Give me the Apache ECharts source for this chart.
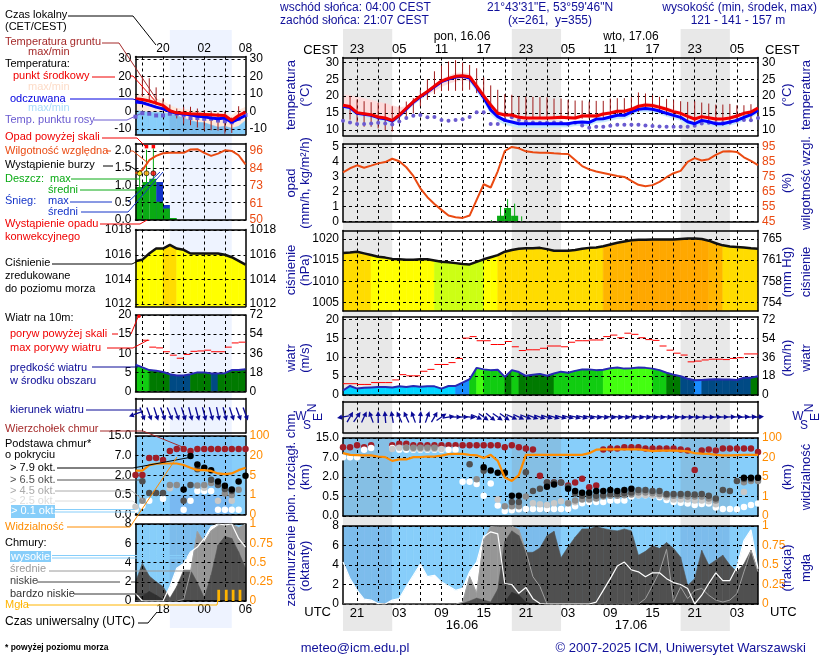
<!DOCTYPE html>
<html>
<head>
<meta charset="utf-8">
<style>html,body{margin:0;padding:0;background:#fff}#main{width:820px;height:660px}</style>
<script src="https://cdn.jsdelivr.net/npm/echarts@6/dist/echarts.min.js"></script>
</head>
<body>
<div id="main"></div>
<script>
var _ = null;

// ---- main meteogram, hourly from 19 UTC 15.06 (hour 19) to hour 78 ----
var tempMid = [17.3,16.9,15.1,14.8,14.5,13.8,13.5,12.8,14.4,16.4,18.4,20,21.4,23,24.5,25.3,25.9,26.1,25.8,23,20.1,17.4,14.9,14.4,14.4,13.7,13.5,13.5,13.5,13.5,13.6,13.7,13.6,13.5,14.1,14.2,14.1,14.7,15,15.5,15.5,16.1,17,17.4,17.2,16.7,16.1,15.4,14.9,14,13.2,13.9,13.6,13.2,13.2,13.5,14.1,14.9,15.3,16.5];
var tempMax = [20.3,20.2,19.8,19.3,18.8,18.3,17.8,17.2,16.6,16.9,18.8,20.4,21.8,23.4,25,26,26.8,27,26.6,24,21,18,15.6,15,14.9,14.2,14,14,14,14,14.1,14.2,14.1,14,14.6,14.7,14.6,15.2,15.5,16,16,16.6,17.5,18,17.8,17.3,16.7,16,15.4,14.5,13.8,14.4,14.1,13.7,13.8,14,14.6,15.4,15.8,17];
var tempMin = [16.6,16.2,14.6,14.2,13.9,13.2,13,12.3,13.8,15.6,17.6,19.2,20.4,21.6,22.8,23.8,24.4,24.8,24.6,22.6,19.6,16.9,14.4,13.9,13.9,13.2,13,13,13,13,13.1,13.2,13.1,13,13.6,13.7,13.6,14.2,14.5,15,15,15.6,16.5,16.9,16.7,16.2,15.6,14.9,14.4,13.5,12.7,13.4,13.1,12.7,12.7,13,13.6,14.4,14.8,16];
var feels = [17,16.6,14.9,14.6,14.3,13.6,13.3,12.6,14.2,16.2,18.2,19.8,21.2,22.8,24.3,25.1,25.7,25.9,25.4,22.6,19.6,15.9,13.9,12.8,12.3,11.8,11.8,11.8,11.8,11.8,11.8,11.8,11.8,12.2,12.3,12.2,13.2,13.3,13.8,14.3,14.3,15.3,16.1,16.3,16.1,15.6,14.9,14.3,13.7,12.4,11.8,12.8,12.4,11.8,11.8,12.3,12.8,13.7,14.5,15.8];
var feelsMax = [17.2,16.8,15.1,14.8,14.5,13.8,13.5,12.8,14.4,16.4,18.4,20,21.4,23,24.5,25.3,25.9,26.1,25.6,22.8,19.9,16.4,14.2,13.1,12.6,12.1,12.1,12.1,12.1,12.1,12.1,12.1,12.1,12.5,12.6,12.5,13.5,13.6,14.1,14.6,14.6,15.6,16.4,16.6,16.4,15.9,15.2,14.6,14,12.7,12.1,13.1,12.7,12.1,12.1,12.6,13.1,14,14.8,16.1];
var feelsMin = [16.2,15.8,14.1,13.8,13.5,12.8,12.5,11.8,13.4,15.4,17.4,19,20.4,22,23.5,24.3,24.9,25.1,24.4,21.4,18.4,14.6,12.7,11.6,11.1,10.7,10.7,10.7,10.7,10.7,10.8,10.8,10.8,11.2,11.3,11.2,12.2,12.3,12.8,13.3,13.3,14.3,15.2,15.4,15.2,14.7,14,13.4,12.8,11.5,10.9,11.9,11.5,10.9,10.9,11.4,11.9,12.8,13.6,14.9];
var dewPoint = [12.7,12.2,11.7,11.7,11.9,12.1,11.9,11.6,12.5,13.5,14.2,14.4,13.7,13.8,12.9,12.7,12.9,13.1,13.8,15.2,15.2,11.7,11.7,12.9,13.7,12.9,12.4,12.2,12.1,12.1,12.2,12.1,11.7,12.1,11.3,10.6,10.9,10.9,11.2,11.5,11.5,11.5,11.5,11.3,11.1,11,10.9,10.9,10.9,10.9,11.2,11.9,12.1,12,12,12.2,12.8,12.9,12.8,13.5];
var groundMax = [_,20,19,18.5,18.2,18,17.8,17,17,18.4,19.4,21.8,25,27.4,29.1,30.3,30.7,30,29.3,28.3,25.6,23.2,21.9,20.6,20.4,19.9,19.8,19.8,19.7,19.7,19.3,19.3,18.9,18.7,18.7,18.4,18.6,18.6,19.3,19.4,19.4,19.7,21.1,20.8,20.3,19.8,19.2,18.8,18.5,18.3,18.5,18.1,17.8,17.5,17.5,17.7,17.3,17.3,17.6,16.8];
var groundMin = [_,13,12.2,10.9,10.9,10.4,9.9,9.5,12,13,14.9,17,18.9,20.6,21.5,21.6,21.6,21.6,21.9,20.9,19.6,16,14,13.6,13.5,13.5,13.5,13.5,13.4,13.4,13.4,13.4,13.4,13.4,13.3,13.3,13.3,13.3,13.3,14,14,14.5,15.3,15.9,15.6,15,14.3,13.5,13,12.8,12,11.9,11.7,11.2,11.2,11.6,12.1,12.7,13.2,13.7];
var humidity = [78,80.7,82.7,81.1,82.5,84,84.9,87.1,85.4,81.4,75.6,67.3,61.3,56.8,52.8,49,47.9,47.4,49,59.5,70,67.8,78.7,92.3,95,94.1,92.1,91.4,91.2,91.2,90.8,90.5,90.3,86.3,82.2,80,78.5,77.6,76.5,75.6,74.9,72.2,69.6,68.7,69.4,71.6,74.7,77.4,79,85,87.5,85.9,86.8,89.7,91.9,92.1,91.7,88.1,85.6,82.9];
var rainHours = [41.4,42.4,43.4];
var rainMean = [0.38,0.9,0.38];
var rainPeakHours = [40.1,41.4,42.4,43.4,44.4];
var rainPeak = [0.1,1.05,1.5,1.2,0.35];
var pressure = [1016.7,1016.8,1017,1016.6,1016.2,1015.8,1015.6,1015.3,1015.2,1015.1,1015.1,1015.2,1015.2,1014.9,1014.6,1014.5,1014.3,1014.1,1014,1014.6,1015.2,1015.7,1016.2,1017,1017.4,1017.7,1017.8,1017.8,1017.9,1017.6,1017.2,1017.2,1017.2,1017.4,1017.7,1017.9,1018,1018.3,1018.7,1019.1,1019.4,1019.7,1019.8,1019.8,1019.9,1019.9,1019.9,1019.9,1020,1020.1,1020.1,1020,1019.6,1019,1018.5,1018.2,1018.1,1018,1017.8,1017.7];
var wind = [1.2,2.4,1.7,1.9,2,2.1,2.1,2,2.3,2.1,2.4,2.2,2.3,2.3,1.7,2.4,2.4,3.3,4.2,7.2,6.8,6.6,6.7,4.8,6.6,6.1,5.1,5.4,5.6,5.1,5.7,6.2,5.9,6.4,6.8,6.8,6.6,6.7,7.1,7.3,7,7.1,7.3,7.2,7,6.6,5.9,5.4,5,4.3,3.9,4,4.1,4.2,4.1,4.1,4,4.6,4.6,5];
var gust = [3,3,2.8,2.8,3.3,3.3,3.3,4,5.4,5.1,5.1,6.3,6.8,8.1,8.1,8.6,9.7,15.1,15.5,14.4,14.4,13.4,13.4,14.2,12.8,11.8,12,12,12.4,13,13,12.8,14,14.4,14.4,14.6,14.6,15.5,15.9,15.2,16.4,16.1,15.2,14.7,14.5,13,11.9,11.1,10.6,8.8,9,9.3,9.5,9.5,9.4,9.7,9.9,10.9,10.9];
var windDir = [260,30,35,25,340,0,355,350,335,335,340,5,20,30,55,80,90,90,95,115,125,130,125,125,115,115,112,110,108,108,106,105,105,104,104,102,100,100,100,100,100,100,100,100,100,98,98,98,98,95,95,92,92,90,90,88,88,85,85,85];
var baseTop = [11.2,11.2,12,11.2,12,_,_,12,12.6,12.6,12,12,12,12,12,12,12,12,12,12,12,12,12,11.2,12,11.2,10.7,10.3,2.35,1.58,1.58,1.58,1.35,1.58,1.87,1.22,1.35,10.3,10.7,10.7,11.2,11.2,11.2,10.7,10.7,10.7,10.7,10.7,10.3,9.9,3.8,9.9,10.3,9.9,10.7,10.7,10.7,10.7,10.7,9.3];
var base79 = [_,_,_,_,_,_,_,_,_,_,_,_,_,_,_,_,_,_,_,_,4.5,3.65,3.1,3.1,.55,.55,_,_,_,1.25,1.43,_,1.1,.92,.78,.78,.92,.92,1,.92,1,1.1,_,_,_,_,_,_,_,_,_,_,_,_,_,_,_,1.95,1.95,1.95];
var base65 = [_,_,_,_,_,_,_,_,_,_,_,_,_,_,_,_,_,_,5.3,_,3.6,_,_,3.1,.36,.36,3.2,.92,1.1,1.58,1.58,1.58,1.25,.73,.55,.55,.55,.6,.7,.7,.75,.8,1,1,.92,.92,.7,.7,.7,.7,.65,.7,.55,.45,1,.92,1.7,1.85,1.85,1.95];
var base45 = [_,_,_,_,_,_,_,_,_,11,11,11,11,11,_,_,_,_,_,1.82,_,_,_,.25,.25,.25,.5,_,_,_,_,_,.33,.4,.42,.42,.45,.5,.55,.55,.6,.65,.8,.8,.75,.7,.6,.55,.55,.5,.5,.5,.45,.4,_,_,_,1.6,1.7,1.7];
var base25 = [_,_,_,_,_,_,_,10.5,11,11,10.5,10.5,10.5,10.5,10.5,_,_,_,_,_,_,_,.42,_,_,_,_,.33,.3,.28,.33,.38,.33,.35,_,_,_,_,_,_,_,_,.6,.6,.6,.55,.48,.42,.42,.42,.4,.4,.38,.3,_,_,_,.85,_,_];
var base01 = [7.1,7.1,7.1,10.2,10.9,_,_,10.9,10.2,10.2,10.2,10.2,10.2,10.2,10.2,10.2,10.2,1.64,1.64,1.46,.55,1.5,.27,.13,.15,.17,.18,.18,.18,.18,.18,.18,.18,.25,.33,.36,.36,.36,.4,.4,.4,.5,.6,.6,.58,.48,.41,.36,.34,.32,.28,.31,.32,.22,.18,.18,.17,.23,.28,.32];
var visibility = [37.8,31,30,29,29,24,21.6,17.4,18.5,18.5,21.6,21.6,24,24,28,33.8,34.6,34.6,31,29,19.7,31,17.4,4.9,4.2,6.5,31,31,31,31,31,31,31,31,31,37.8,52,53,53,53,53,53,53,50,46,48,48,48,47,45,37.8,36,34.6,31,29,29,30,31,31,31];
var cloudHigh = [4.3,2.6,1.4,.5,.4,.03,0,.4,.55,1.8,2.95,4.1,2.8,2.95,2.25,1.85,1.4,1.6,3.3,4.3,6.9,7.4,7.2,2.1,2,1.1,1.7,.55,.05,0,0,0,0,0,0,0,.2,1.4,2.6,3.9,4.3,3.5,3.3,2.8,3.2,3.2,2.6,2.2,2,1.6,0,.9,2.1,3.2,2.4,2.4,3.8,6.5,7.6,3.6];
var cloudMid = [0,0,0,0,0,0,0,0,0,0,0,0,0,0,0,0,0,.15,2.8,1.1,6.5,7.95,8,8,8,7.6,5.4,2.8,1.8,0,0,0,0,0,0,0,0,0,0,0,0,0,0,.55,1.9,3.3,5.6,.2,1.75,.55,1.4,1.6,.9,.4,.2,.4,1.05,3.3,5.5,3.3];
var cloudLow = [0,0,0,0,0,0,0,0,0,0,0,0,0,0,0,0,0,.05,.3,.6,.4,.2,1.5,6.4,7.5,7,5.3,5.3,5.75,7,7.45,4.75,5.85,6.85,7.7,7.7,7.95,7.75,7.6,7.5,7.7,7.5,5,5.4,6,5.7,6.3,5.7,4.8,1.9,2.6,5.5,4,4.5,5,4,3.3,4.1,5.5,3.3];
var cloudVeryLow = [0,0,0,0,0,0,0,0,0,0,0,0,0,0,0,0,0,0,0,0,0,0,0,.2,1.2,.9,.2,0,0,0,0,0,0,0,0,0,0,0,0,0,0,0,0,0,0,0,0,0,0,0,0,0,0,0,0,0,0,0,0,0];

// ---- small left panels, hourly from 14 UTC to 30 ----
var sTempMid = [7.3,6.9,6,4.8,3.5,.4,-.8,-1,-1.3,-1.5,-1.7,-1.9,-2.1,-2.3,-5.2,-2.3,-.4];
var sFeels = [5.4,5,3.8,2.5,1.5,0,-1,-1.5,-1.9,-2.7,-3.1,-3.8,-4.2,-3.8,-6.2,-4.2,-2.3];
var sTempMax = [10.2,9.2,8.3,7.3,5.8,3.5,1.9,1.2,.8,0,-.4,-.8,-.8,-1.2,-2.3,.6,2.5];
var sFeelsMax = [.6,0,-.4,-.4,-.8,-1.3,-2.3,-3.8,-5.2,-6.2,-6.5,-7.7,-9,-8.5,-9.6,-8.5,-5.2];
var sDew = [-3,-1,-1.3,-2.3,-2.3,-1.3,-1.3,-2.3,-3.8,-3.8,-4.2,-4.2,-5.2,-5.6,-6.2,-4.2,-2];
var sGroundMax = [_,20,19,13.8,7.5,4,1.7,2.7,2.7,1.7,.8,.4,-.8,-.2,-3.5,3,_];
var sGroundMin = [_,8.5,6.5,3.6,.8,-2,-4,-7,-7.9,-9.2,-10.8,-10.8,-11,-12.7,-12.3,-5,_];
var sHumidity = [80.9,83.1,89.7,92.6,94.3,94.6,94.6,94.6,96.8,97,94.6,92.6,94.1,96.3,95.9,93,87];
var sRainHours = [14.5,15.5,16.5,17.5,18.5,19.5];
var sRain = [.95,1.1,1.19,.53,.33,.06];
var sSnow = [_,_,_,1.1,.43,_];
var sRainPeakHours = [14.6,15.6,16.6];
var sRainPeak = [1.35,2.03,2.07];
var sOverHours = [15.6,16.6];
var sOver = [2.12,2.12];
var sStormHours = [14.6,15.6,16.6];
var sStorm = [1.35,1.35,1.35];
var sPressure = [1015.5,1015.6,1016.1,1016.5,1016.5,1016.8,1016.5,1016.4,1016.1,1016.1,1016.1,1016.1,1016.1,1016,1015.8,1015.5,1015.2];
var sWind = [7,6.3,5.6,5.4,5.1,4.5,4.2,4.2,4.5,5,5,4.7,4.7,4.8,5.6,5.6,5.8];
var sGust = [_,13.4,11.6,11.4,10.4,9.5,8.7,9.7,10.5,10.6,10.8,10.4,10.4,11.6,12.7,12.9];
var sGustOver = [19.7];
var sDir = [250,160,160,162,160,158,160,162,165,165,165,165,168,165,162,160,160];
var sBaseTop = [2.05,2.05,6.4,6.4,5.9,8.9,9.7,9.7,8.9,9.7,9.7,9.7,9.7,9.7,9.7,9.7,9.7];
var sBase79 = [_,_,_,_,_,_,_,.92,6.9,4.75,3.9,3.3,1.53,1.2,.92,1.53,1.97];
var sBase65 = [_,1.55,.65,.65,.65,_,_,.35,1.25,3.5,_,1.65,1.25,.95,.8,_,_];
var sBase45 = [_,.35,_,_,_,1.25,1.25,_,_,1.22,1.25,1.4,_,.6,.5,.9,_];
var sBase25 = [.2,_,_,_,_,1,_,_,_,_,1.05,_,.35,_,.35,_,_];
var sBase01 = [.12,.22,.35,_,.4,_,_,.12,.35,.8,.8,.8,.12,.12,.12,.12,_];
var sVisibility = [8.6,8.6,12.8,13.8,14,14,14,12.8,10.7,8.9,8.9,8.3,6.4,5.8,6.4,8.9,10.7];
var sCloudHigh = [.8,0,0,0,0,1.5,3.4,3.9,5.1,5.6,6.5,7.7,8,7.9,8,6.5,5.6];
var sCloudMid = [0,0,0,0,0,0,0,.15,3,7.2,6.1,7.3,7.8,8,8,7.6,8];
var sCloudLow = [2,3.9,2.6,2,1.5,.3,1.5,3.2,3.2,1.9,.3,2.7,5.8,6.7,6.5,5.1,3.4];
var sCloudVeryLow = [.3,.5,1,.6,.15,0,0,0,0,0,0,0,0,0,0,0,0];
var sFogHours = [26.1,27.2,28.2,29.2];
var sFog = [.146,.146,.146,.146];

// ---- scales and tick labels ----
var nightMain = [[19,26],[43,50],[67,74]];
var nightSmall = [[19,28]];
var baseKm = [0,.5,2,7,15];
var visKm = [0,1,5,20,100];
var baseTicks = ['0.0','0.5','2.0','7.0','15.0'];
var visTicks = ['0','1','5','20','100'];
var hgTicks = {1005:'754',1010:'758',1015:'761',1020:'765'};
var humTicksMain = [45,55,65,75,85,95];
var smallHumVals = [50,61,73,84,96];
var smallFracTicks = [0,.25,.5,.75,1];
var WIDTH_M = [343,758], WIDTH_S = [135.5,245.5];
var FONT = '"Liberation Sans"';
var NAVY = '#10109a', ORANGE = '#ff8c00', HUMC = '#ea4a12';

function hoursFrom(a, n){ var r=[]; for(var i=0;i<n;i++) r.push(a+i); return r; }
var hM = hoursFrom(19,60), hS = hoursFrom(14,17);
var gridValsM = hoursFrom(0,27).map(function(i){return 21+3*i;}).filter(function(v){return v<78;});
var labValsM = hoursFrom(0,10).map(function(i){return 21+6*i;});
var gridValsS = [15,18,21,24,27];
var labValsS = [18,24,30];

var option = {animation:false, backgroundColor:'#fff', textStyle:{fontFamily:FONT},
	grid:[], xAxis:[], yAxis:[], series:[], graphic:[]};
var elements = [];

function pad2(h){ h=((h%24)+24)%24; return (h<10?'0':'')+h; }

function hiddenAxes(rect, xr){
	var k = option.grid.length;
	option.grid.push({left:rect[0], top:rect[1], width:rect[2], height:rect[3], show:false});
	option.xAxis.push({type:'value', gridIndex:k, min:xr[0], max:xr[1], show:false});
	option.xAxis.push({type:'value', gridIndex:k, min:xr[0], max:xr[1], show:false, position:'top'});
	option.yAxis.push({type:'value', gridIndex:k, min:0, max:1, show:false});
	option.yAxis.push({type:'value', gridIndex:k, min:0, max:1, show:false, position:'right'});
	return k;
}

/**
 * 一个面板：上下两条 x 轴，左右两条 y 轴
 */
function panel(o){
	var k = option.grid.length;
	var small = o.small;
	var xw = small ? WIDTH_S : WIDTH_M;
	var xr = small ? [14,30] : [19,78];
	var gv = small ? gridValsS : gridValsM;
	var lv = small ? labValsS : labValsM;
	var xfs = small ? 12 : 13;
	var line = {show:true, onZero:false, lineStyle:{color:'#000', width:1.5}};
	var dash = {show:true, lineStyle:{color:'#000', width:1, type:[3,3]}};
	option.grid.push({left:xw[0], width:xw[1]-xw[0], top:o.top, height:o.bottom-o.top,
		show:!!o.bg, backgroundColor:o.bg||'transparent', borderWidth:0});
	option.xAxis.push({type:'value', gridIndex:k, min:xr[0], max:xr[1], position:'bottom', z:5, axisLine:line,
		axisTick:{show:false, customValues:gv}, splitLine:dash,
		axisLabel:{show:!!o.xlabels, customValues:lv, margin:o.xMargin||3, color:'#000', fontSize:xfs, fontFamily:FONT,
			formatter:function(v){return pad2(v);}}});
	option.xAxis.push({type:'value', gridIndex:k, min:xr[0], max:xr[1], position:'top', z:5, axisLine:line,
		axisTick:{show:false, customValues:gv}, splitLine:{show:false},
		axisLabel:{show:!!o.toplabels, customValues:lv, margin:2, color:'#000', fontSize:xfs, fontFamily:FONT,
			formatter:function(v){return pad2(v+2);}}});
	option.yAxis.push({type:'value', gridIndex:k, min:o.y.min, max:o.y.max, z:5, axisLine:line,
		axisTick:{show:false, customValues:o.y.vals}, splitLine:dash,
		axisLabel:{customValues:o.y.vals, margin:4, color:'#000', fontSize:12, fontFamily:FONT, formatter:o.y.fmt}});
	option.yAxis.push({type:'value', gridIndex:k, position:'right', min:o.y2.min, max:o.y2.max, z:5, axisLine:line,
		axisTick:{show:false, customValues:o.y2.vals}, splitLine:{show:false},
		axisLabel:{customValues:o.y2.vals, margin:4, color:o.y2.color||'#000', fontSize:12, fontFamily:FONT, formatter:o.y2.fmt}});
	return k;
}

function axesOf(k, right){ return {xAxisIndex:2*k, yAxisIndex:2*k+(right?1:0)}; }
function put(k, s, right){ var a=axesOf(k,right); s.xAxisIndex=a.xAxisIndex; s.yAxisIndex=a.yAxisIndex; option.series.push(s); }
function pairs(xs, ys){ return xs.map(function(x,i){ return [x, ys[i]]; }); }

function nightSeries(k, ranges, color, z){
	put(k, {type:'custom', z:z, silent:true, clip:true, data:ranges,
		renderItem:function(p, api){
			var a=api.coord([api.value(0),0]), b=api.coord([api.value(1),1]);
			return {type:'rect', shape:{x:a[0], y:b[1], width:b[0]-a[0], height:a[1]-b[1]}, style:{fill:color}};
		}, encode:{x:[0,1], y:[]}});
}

// 两条边界之间逐段填充，颜色由 colorFn(段起点, 段均值) 决定
function areaSeries(k, xs, lo, hi, colorFn, z, right){
	var data = xs.slice(0,-1).map(function(x,i){ return [x, xs[i+1], lo[i], lo[i+1], hi[i], hi[i+1]]; });
	put(k, {type:'custom', z:z, silent:true, clip:true, data:data,
		encode:{x:[0,1], y:[2,3,4,5]},
		renderItem:function(p, api){
			var i=p.dataIndex, d=data[i];
			var c = colorFn(d[0], (d[4]+d[5])/2);
			if(!c) return null;
			var pts=[api.coord([d[0],d[2]]),api.coord([d[1],d[3]]),api.coord([d[1],d[5]]),api.coord([d[0],d[4]])];
			return {type:'polygon', shape:{points:pts}, style:{fill:c, stroke:c, lineWidth:.6}};
		}}, right);
}

function constArr(n, v){ var r=[]; for(var i=0;i<n;i++) r.push(v); return r; }

function lineSeries(k, xs, ys, color, w, z, right){
	put(k, {type:'line', z:z, silent:true, showSymbol:false, connectNulls:false, data:pairs(xs,ys),
		lineStyle:{color:color, width:w}}, right);
}
function dots(k, xs, ys, color, size, z, symbol, right){
	put(k, {type:'scatter', z:z, silent:true, symbol:symbol||'circle', symbolSize:size, data:pairs(xs,ys).filter(function(d){return d[1]!==null;}),
		itemStyle:{color:color, opacity:1}}, right);
}
function sticks(k, xs, lo, hi, color, w, z, right){
	put(k, {type:'custom', z:z, silent:true, clip:true, data:xs.map(function(x,i){return [x, lo[i], hi[i]];}).filter(function(d){return d[2]!==null;}),
		encode:{x:0, y:[1,2]},
		renderItem:function(p, api){
			var a=api.coord([api.value(0),api.value(1)]), b=api.coord([api.value(0),api.value(2)]);
			return {type:'line', shape:{x1:a[0],y1:a[1],x2:b[0],y2:b[1]}, style:{stroke:color, lineWidth:w}};
		}}, right);
}
function binsRect(k, xs, lo, hi, width, color, z){
	put(k, {type:'custom', z:z, silent:true, clip:true, data:xs.map(function(x,i){return [x, lo[i], hi[i]];}).filter(function(d){return d[2]!==null;}),
		encode:{x:0, y:[1,2]},
		renderItem:function(p, api){
			var v0=api.value(0);
			var a=api.coord([v0-width/2,api.value(1)]), b=api.coord([v0+width/2,api.value(2)]);
			return {type:'rect', shape:{x:a[0], y:b[1], width:b[0]-a[0], height:a[1]-b[1]}, style:{fill:color}};
		}});
}
function gustSeries(k, xs, ys){
	put(k, {type:'custom', z:6, silent:true, clip:true, data:ys.map(function(v,i){return [xs[i], xs[i]+1, v];}).filter(function(d){return d[2]!==null;}),
		encode:{x:[0,1], y:2},
		renderItem:function(p, api){
			var a=api.coord([api.value(0),api.value(2)]), b=api.coord([api.value(1),api.value(2)]);
			return {type:'line', shape:{x1:a[0],y1:a[1],x2:b[0],y2:b[1]}, style:{stroke:'#ff0000', lineWidth:1}};
		}});
}
function arrows(k, xs, dirs, cy, len){
	put(k, {type:'custom', z:6, silent:true, clip:false, data:xs.map(function(x,i){return [x, dirs[i]];}),
		encode:{x:0},
		renderItem:function(p, api){
			var c=api.coord([api.value(0),cy]), t=api.value(1)*Math.PI/180;
			var dx=Math.sin(t), dy=-Math.cos(t);
			var tail=[c[0]-dx*len/2,c[1]-dy*len/2], head=[c[0]+dx*len/2,c[1]+dy*len/2];
			var bx=head[0]-dx*5, by=head[1]-dy*5;
			return {type:'group', children:[
				{type:'line', shape:{x1:tail[0],y1:tail[1],x2:bx,y2:by}, style:{stroke:'#0a0a96', lineWidth:1.3}},
				{type:'polygon', shape:{points:[head,[bx-dy*2.6,by+dx*2.6],[bx+dy*2.6,by-dx*2.6]]}, style:{fill:'#0a0a96'}}
			]};
		}});
}

function toScale(v, km){
	if(v===null) return null;
	for(var i=1;i<km.length;i++){
		if(v<=km[i]) return i-1+(v-km[i-1])/(km[i]-km[i-1]);
	}
	return km.length-1;
}
function scaled(arr, km){ return arr.map(function(v){return toScale(v,km);}); }

function pressColor(th){
	return function(x, p){
		if(p<1015) return '#ccff14';
		if(p<th) return '#ffff00';
		if(p<1018.4) return '#ffdc00';
		if(p<1019.7) return '#ffb400';
		return '#ffa800';
	};
}
function windColor(x, w){
	if(w<2.6) return '#00d4ff';
	if(w<4.05) return '#1a8cff';
	if(w<4.75) return '#004a84';
	if(w<5.7) return '#007a00';
	if(w<6.9) return '#11cc11';
	return '#44ff11';
}
function skyMain(x){
	for(var i=0;i<nightMain.length;i++) if(x>=nightMain[i][0] && x<nightMain[i][1]) return '#7cbcec';
	return '#87cefa';
}
function skySmall(x){ return (x>=19 && x<28) ? '#7cbcec' : '#87cefa'; }
function fixed(c){ return function(){return c;}; }
function lab(v){ return String(v); }

// ---- 背景夜间色带 ----
var bgM = hiddenAxes([WIDTH_M[0],29,WIDTH_M[1]-WIDTH_M[0],602],[19,78]);
nightSeries(bgM, nightMain, 'rgba(128,128,128,0.18)', 1);
var bgS = hiddenAxes([WIDTH_S[0],30,WIDTH_S[1]-WIDTH_S[0],598],[14,30]);
nightSeries(bgS, nightSmall, 'rgba(90,140,255,0.10)', 1);

// ---- 主图 ----
var km1 = panel({top:57.5, bottom:135.5, toplabels:true,
	y:{min:8.3,max:31.5,vals:[10,15,20,25,30],fmt:lab}, y2:{min:8.3,max:31.5,vals:[10,15,20,25,30],fmt:lab}});
areaSeries(km1,hM,feelsMin,feelsMax,fixed('#c4e8fc'),2);
areaSeries(km1,hM,tempMin,tempMax,fixed('#fddcdc'),2.5);
sticks(km1,hM,groundMin,groundMax,'#a01c1c',1,6);
dots(km1,hM,dewPoint,'#6a5ad0',4,6);
lineSeries(km1,hM,feels,'#0000ff',3,6.5);
lineSeries(km1,hM,tempMid,'#f00000',3,6.6);

var km2 = panel({top:144, bottom:221.5,
	y:{min:0,max:5.2,vals:[0,1,2,3,4,5],fmt:lab},
	y2:{min:45,max:97,vals:humTicksMain,color:HUMC,fmt:lab}});
binsRect(km2,rainHours,[0,0,0],rainMean,1,'#0aaa14',3);
sticks(km2,rainPeakHours,constArr(5,0),rainPeak,'#0aaa14',1,3);
lineSeries(km2,hM,humidity,HUMC,2,6,true);

var km3 = panel({top:230.5, bottom:311,
	y:{min:1003,max:1022,vals:[1005,1010,1015,1020],fmt:lab},
	y2:{min:1003,max:1022,vals:[1005,1010,1015,1020],fmt:function(v){return hgTicks[v];}}});
areaSeries(km3,hM,constArr(60,1003),pressure,pressColor(1016.3),2);
lineSeries(km3,hM,pressure,'#111',2.5,6);

var km4 = panel({top:317, bottom:395,
	y:{min:0,max:20.7,vals:[0,5,10,15,20],fmt:lab},
	y2:{min:0,max:74.5,vals:[0,18,36,54,72],fmt:lab}});
areaSeries(km4,hM,constArr(60,0),wind,windColor,2);
lineSeries(km4,hM,wind,'#2828b4',2,6);
gustSeries(km4,hM,gust);

var km5 = option.grid.length;
panel({top:401.5, bottom:432.5, y:{min:0,max:1,vals:[],fmt:lab}, y2:{min:0,max:1,vals:[],fmt:lab}});
arrows(km5,hM,windDir,0.5,12);

var km6 = panel({top:438, bottom:516, bg:'#87cefa',
	y:{min:0,max:4,vals:[0,1,2,3,4],fmt:function(v){return baseTicks[v];}},
	y2:{min:0,max:4,vals:[0,1,2,3,4],color:ORANGE,fmt:function(v){return visTicks[v];}}});
dots(km6,hM,scaled(baseTop,baseKm),'#a01e28',6.5,6);
dots(km6,hM,scaled(base01,baseKm),'#ffffff',6.5,6.1);
dots(km6,hM,scaled(base25,baseKm),'#c8c8c8',6.5,6.2);
dots(km6,hM,scaled(base45,baseKm),'#8c8c8c',6.5,6.3);
dots(km6,hM,scaled(base65,baseKm),'#505050',6.5,6.4);
dots(km6,hM,scaled(base79,baseKm),'#000000',6.5,6.5);
lineSeries(km6,hM,scaled(visibility,visKm),ORANGE,2.2,6.6);

var km7 = panel({top:526, bottom:604, xlabels:true,
	y:{min:0,max:8,vals:[0,2,4,6,8],fmt:lab},
	y2:{min:0,max:1,vals:smallFracTicks,color:ORANGE,fmt:lab}});
areaSeries(km7,hM,constArr(60,0),constArr(60,8),fixed('#ffffff'),1.5);
areaSeries(km7,hM,cloudHigh,constArr(60,8),skyMain,2);
areaSeries(km7,hM,constArr(60,0),cloudMid,fixed('#969696'),3);
areaSeries(km7,hM,constArr(60,0),cloudLow,fixed('#505050'),3.2);
areaSeries(km7,hM,constArr(60,0),cloudVeryLow,fixed('#303030'),3.4);
lineSeries(km7,hM,cloudMid,'#a0a0a0',1,6);
lineSeries(km7,hM,cloudHigh,'#ffffff',1.2,6.2);

// ---- 左侧小图 ----
var ks1 = panel({small:true, top:56.5, bottom:134.5, toplabels:true,
	y:{min:-13.2,max:31.5,vals:[-10,0,10,20,30],fmt:lab}, y2:{min:-13.2,max:31.5,vals:[-10,0,10,20,30],fmt:lab}});
var sMin = constArr(17,-13.2);
areaSeries(ks1,hS,sMin,sTempMax,fixed('#fde8dc'),2);
areaSeries(ks1,hS,sMin,sFeelsMax,skySmall,2.2);
sticks(ks1,hS,sGroundMin,sGroundMax,'#a01c1c',1,6);
dots(ks1,hS,sDew,'#6a5ad0',4,6,'rect');
lineSeries(ks1,hS,sFeels,'#0000ff',3,6.5);
lineSeries(ks1,hS,sTempMid,'#f00000',3,6.6);

var ks2 = panel({small:true, top:143.5, bottom:220,
	y:{min:0,max:2.21,vals:[0,.5,1,1.5,2],fmt:function(v){return v.toFixed(1);}},
	y2:{min:50,max:100.8,vals:smallHumVals,color:HUMC,fmt:lab}});
binsRect(ks2,sRainHours,constArr(6,0),sSnow,1,'#1434c8',3);
binsRect(ks2,sRainHours,constArr(6,0),sRain,1,'#0aaa14',3.2);
sticks(ks2,sRainPeakHours,constArr(3,0),sRainPeak,'#0aaa14',1,3);
dots(ks2,sOverHours,sOver,'#ff0000',3.5,7,'rect');
put(ks2,{type:'scatter',z:7,silent:true,symbolSize:5,data:[
	{value:[sStormHours[0],sStorm[0]],itemStyle:{color:'#ffee00',borderColor:'#000',borderWidth:.8}},
	{value:[sStormHours[1],sStorm[1]],itemStyle:{color:'#ffa500',borderColor:'#000',borderWidth:.8}},
	{value:[sStormHours[2],sStorm[2]],itemStyle:{color:'#ff0000',borderColor:'#000',borderWidth:.8}}]});
lineSeries(ks2,hS,sHumidity,HUMC,2,6,true);

var ks3 = panel({small:true, top:229.5, bottom:306.5,
	y:{min:1011.8,max:1018.05,vals:[1012,1014,1016,1018],fmt:lab}, y2:{min:1011.8,max:1018.05,vals:[1012,1014,1016,1018],fmt:lab}});
areaSeries(ks3,hS,constArr(17,1011.8),sPressure,pressColor(1016.6),2);
lineSeries(ks3,hS,sPressure,'#111',2.5,6);

var ks4 = panel({small:true, top:315, bottom:391.5,
	y:{min:0,max:20,vals:[0,5,10,15,20],fmt:lab}, y2:{min:0,max:72,vals:[0,18,36,54,72],fmt:lab}});
areaSeries(ks4,hS,constArr(17,0),sWind,windColor,2);
lineSeries(ks4,hS,sWind,'#2828b4',2,6);
gustSeries(ks4,hS,sGust);
dots(ks4,[14.5],sGustOver,'#ff0000',3.5,7);

var ks5 = panel({small:true, top:398.5, bottom:433, y:{min:0,max:1,vals:[],fmt:lab}, y2:{min:0,max:1,vals:[],fmt:lab}});
arrows(ks5,hS,sDir,0.55,14);

var ks6 = panel({small:true, top:436, bottom:514.5, bg:'#87cefa',
	y:{min:0,max:4,vals:[0,1,2,3,4],fmt:function(v){return baseTicks[v];}},
	y2:{min:0,max:4,vals:[0,1,2,3,4],color:ORANGE,fmt:function(v){return visTicks[v];}}});
nightSeries(ks6,[[19,28]],'rgba(60,90,190,0.13)',1.5);
dots(ks6,hS,scaled(sBaseTop,baseKm),'#a01e28',6.5,6);
dots(ks6,hS,scaled(sBase01,baseKm),'#ffffff',6.5,6.1);
dots(ks6,hS,scaled(sBase25,baseKm),'#c8c8c8',6.5,6.2);
dots(ks6,hS,scaled(sBase45,baseKm),'#8c8c8c',6.5,6.3);
dots(ks6,hS,scaled(sBase65,baseKm),'#505050',6.5,6.4);
dots(ks6,hS,scaled(sBase79,baseKm),'#000000',6.5,6.5);
lineSeries(ks6,hS,scaled(sVisibility,visKm),ORANGE,2.2,6.6);

var ks7 = panel({small:true, top:524, bottom:601, xlabels:true,
	y:{min:0,max:8,vals:[0,2,4,6,8],fmt:lab},
	y2:{min:0,max:1,vals:smallFracTicks,color:ORANGE,fmt:lab}});
areaSeries(ks7,hS,constArr(17,0),constArr(17,8),fixed('#ffffff'),1.5);
areaSeries(ks7,hS,sCloudHigh,constArr(17,8),skySmall,2);
areaSeries(ks7,hS,constArr(17,0),sCloudMid,fixed('#969696'),3);
areaSeries(ks7,hS,constArr(17,0),sCloudLow,fixed('#505050'),3.2);
areaSeries(ks7,hS,constArr(17,0),sCloudVeryLow,fixed('#303030'),3.4);
lineSeries(ks7,hS,sCloudMid,'#a0a0a0',1,6);
lineSeries(ks7,hS,sCloudHigh,'#ffffff',1.2,6.2);
binsRect(ks7,sFogHours,constArr(4,0),sFog.map(function(v){return v*8;}),.4,'#ffb400',7);

// ---- 文字与引线 ----
function txt(s, x, y, color, o){
	o = o||{};
	elements.push({type:'text', x:x, y:y, rotation:o.rot||0, z:20, silent:true, style:{text:s, fill:color||'#000',
		font:(o.bold?'bold ':'')+(o.size||12)+'px '+FONT, textAlign:o.align||'left', textVerticalAlign:'middle', textBaseline:'middle'}});
}
function leg(s, x, y, color){ txt(s,x,y,color,{size:11}); }
function rot(s, x, y, color){ txt(s,x,y,color||NAVY,{rot:Math.PI/2, align:'center', size:13}); }
function lead(color, pts, w){
	elements.push({type:'polyline', z:15, silent:true, shape:{points:pts}, style:{stroke:color, fill:null, lineWidth:w||1}});
}
function boxed(x,y,w,h){ elements.push({type:'rect', z:14, silent:true, shape:{x:x,y:y,width:w,height:h}, style:{fill:'#87cefa'}}); }

txt('wschód słońca: 04:00 CEST',280,8,NAVY);
txt('zachód słońca: 21:07 CEST',280,21,NAVY);
txt('21°43\'31"E, 53°59\'46"N',550,8,NAVY,{align:'center'});
txt('(x=261,  y=355)',550,21,NAVY,{align:'center'});
txt('wysokość (min, środek, max)',817,8,NAVY,{align:'right'});
txt('121 - 141 - 157 m',738,21,NAVY,{align:'center'});
txt('pon, 16.06',462,37,'#000',{align:'center'});
txt('wto, 17.06',631,37,'#000',{align:'center'});
txt('CEST',338,50,'#000',{align:'right',size:13});
txt('CEST',765,50,'#000',{size:13});
txt('UTC',331,612,'#000',{align:'right',size:13});
txt('UTC',770,612,'#000',{size:13});
txt('16.06',462,625,'#000',{align:'center',size:13});
txt('17.06',631,625,'#000',{align:'center',size:13});
txt('meteo@icm.edu.pl',355,648,NAVY,{align:'center',size:13});
txt('© 2007-2025 ICM, Uniwersytet Warszawski',806,648,NAVY,{align:'right',size:13});

rot('temperatura',291,95); rot('(°C)',305,95);
rot('opad',291,183); rot('(mm/h, kg/m²/h)',305,183);
rot('ciśnienie',291,270); rot('(hPa)',305,270);
rot('wiatr',291,358); rot('(m/s)',305,358);
rot('pion. rozciągł. chm.',291,466); rot('(km)',305,477);
rot('zachmurzenie',291,566); rot('(oktanty)',305,566);
rot('(°C)',787,95); rot('temperatura',806,95);
rot('(%)',787,183); rot('wilgotność wzgl.',806,183);
rot('(mm Hg)',787,272); rot('ciśnienie',806,272);
rot('(km/h)',787,358); rot('wiatr',806,358);
rot('(km)',787,477); rot('widzialność',806,477);
rot('(frakcja)',787,568); rot('mgła',806,568);

[[309,417],[806,417]].forEach(function(c){
	txt('N',c[0]+4,c[1]-9,NAVY,{size:12,align:'center',rot:Math.PI/2});
	txt('W',c[0]-8,c[1],NAVY,{size:12,align:'center'});
	txt('S',c[0]-2,c[1]+9,NAVY,{size:12,align:'center'});
	txt('E',c[0]+10,c[1],NAVY,{size:12,align:'center',rot:Math.PI/2});
});

leg('Czas lokalny',5,15); leg('(CET/CEST)',5,27);
leg('Temperatura gruntu',5,42,'#a52a2a'); leg('max/min',28,52,'#a52a2a');
leg('Temperatura:',5,64);
leg('punkt środkowy',13,76,'#f00000');
leg('max/min',28,87,'#fddcc8');
leg('odczuwana',10,99,'#0000e0');
leg('max/min',28,108,'#a8dcfa');
leg('Temp. punktu rosy',5,120,'#6a5ad0');
leg('Opad powyżej skali',5,137,'#f00000');
leg('Wilgotność względna',5,151,HUMC);
leg('Wystąpienie burzy',5,165);
leg('Deszcz:',5,179,'#0aaa14'); leg('max',50,179,'#0aaa14'); leg('średni',48,190,'#0aaa14');
leg('Śnieg:',5,201,'#1434c8'); leg('max',48,201,'#1434c8'); leg('średni',48,212,'#1434c8');
leg('Wystąpienie opadu',5,224,'#f00000'); leg('konwekcyjnego',5,237,'#f00000');
leg('Ciśnienie',5,263); leg('zredukowane',5,276); leg('do poziomu morza',5,289);
leg('Wiatr na 10m:',5,318);
leg('poryw powyżej skali',10,334,'#f00000'); leg('max porywy wiatru',10,348,'#f00000');
leg('prędkość wiatru',10,368,'#0a0a96'); leg('w środku obszaru',10,381,'#0a0a96');
leg('kierunek wiatru',10,410,'#0a0a96');
leg('Wierzchołek chmur',5,429,'#a52a2a');
leg('Podstawa chmur*',5,444); leg('o pokryciu',5,455);
leg('> 7.9 okt.',10,468); leg('> 6.5 okt.',10,480,'#505050');
leg('> 4.5 okt.',10,491,'#aaaaaa'); leg('> 2.5 okt.',10,501,'#dcdcdc');
boxed(11,505,44,13); leg('> 0.1 okt.',11,511,'#ffffff');
leg('Widzialność',5,527,ORANGE);
leg('Chmury:',5,543);
boxed(10,551,41,11); leg('wysokie',11,556.5,'#ffffff');
leg('średnie',10,569,'#9a9a9a'); leg('niskie',10,581,'#444'); leg('bardzo niskie',10,594,'#333');
leg('Mgła',5,605,'#ffb400');
txt('Czas uniwersalny (UTC)',5,622);
txt('* powyżej poziomu morza',5,648,'#000',{size:8.5,bold:true});

lead('#000',[[68,16],[133,16],[156,45]]);
lead('#a52a2a',[[102,43],[119,43],[157,100]]);
lead('#f00000',[[92,77],[115,77]]);
lead('#f00000',[[130,76],[133,76],[157,103]]);
lead('#0000e0',[[70,99],[133,99],[165,110]]);
lead('#6a5ad0',[[94,120],[127,120],[142,113]]);
lead('#f00000',[[102,138],[137,138],[146,147]]);
lead(HUMC,[[106,151],[111,151]]);
lead(HUMC,[[130,151],[133,151],[148,163]]);
lead('#000',[[103,166],[113,166]]);
lead('#000',[[130,166],[139,172]]);
lead('#0aaa14',[[71,179],[139,179]]);
lead('#0aaa14',[[80,190],[143,190]]);
lead('#1434c8',[[70,202],[112,202]]);
lead('#1434c8',[[128,202],[160,172]]);
lead('#1434c8',[[81,212],[128,212],[163,172]]);
lead('#f00000',[[100,224],[140,224],[147,220]]);
lead('#000',[[52,264],[132,264],[140,260]]);
lead('#f00000',[[112,334],[118,334]]);
lead('#f00000',[[131,334],[138,317]]);
lead('#f00000',[[107,348],[133,348],[148,340]]);
lead('#0a0a96',[[92,367],[138,367]]);
lead('#0a0a96',[[86,410],[140,410]]);
lead('#a52a2a',[[100,431],[143,431],[185,448]]);
lead('#000',[[57,468],[133,468],[192,457]]);
lead('#505050',[[57,480],[143,480]]);
lead('#aaaaaa',[[55,491],[132,491],[143,500]]);
lead('#dcdcdc',[[55,501],[133,501],[137,505]]);
lead('#87cefa',[[55,509.5],[135,509.5]]);
lead('#87cefa',[[55,512],[135,512]]);
lead(ORANGE,[[67,527],[130,527],[177,457]]);
lead('#87cefa',[[52,555.5],[187,555.5]]);
lead('#87cefa',[[52,558],[187,558]]);
lead('#9a9a9a',[[49,571],[192,571]]);
lead('#444',[[37,582],[120,582]]);
lead('#444',[[131,582],[135,582]]);
lead('#333',[[74,594],[150,594]]);
lead('#ffb400',[[27,605],[217,605],[218,600]]);
lead('#000',[[138,623],[148,623],[157,612]]);

option.graphic = {elements:elements};
var myChart = echarts.init(document.getElementById('main'));
myChart.setOption(option);
</script>
</body>
</html>
